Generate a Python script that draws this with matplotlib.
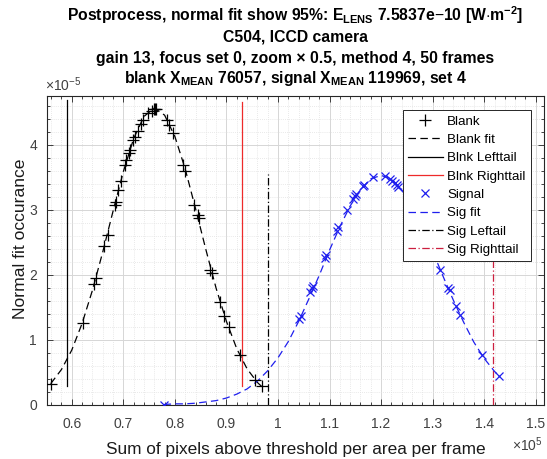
import numpy as np
import matplotlib
matplotlib.use('Agg')
import matplotlib.pyplot as plt
from matplotlib.ticker import AutoMinorLocator

# x values in units of 1e5, y values in units of 1e-5
blank_x = [0.559, 0.621, 0.643, 0.647, 0.662, 0.670, 0.684, 0.686, 0.690, 0.695,
           0.703, 0.706, 0.710, 0.712, 0.719, 0.722, 0.728, 0.734, 0.738, 0.748,
           0.755, 0.759, 0.761, 0.763, 0.784, 0.789, 0.797, 0.816, 0.820, 0.837,
           0.845, 0.847, 0.868, 0.871, 0.887, 0.896, 0.904, 0.926, 0.955, 0.968]
blank_y = [0.31, 1.26, 1.85, 1.95, 2.45, 2.62, 3.08, 3.12, 3.30, 3.45,
           3.69, 3.77, 3.87, 3.92, 4.08, 4.13, 4.21, 4.33, 4.39, 4.49,
           4.52, 4.55, 4.56, 4.56, 4.38, 4.31, 4.19, 3.69, 3.60, 3.08,
           2.92, 2.87, 2.08, 2.03, 1.58, 1.36, 1.19, 0.76, 0.37, 0.28]

blank_fit_x = [0.559, 0.58, 0.60, 0.62, 0.64, 0.66, 0.68, 0.70, 0.72, 0.74, 0.76,
               0.78, 0.80, 0.82, 0.84, 0.86, 0.88, 0.90, 0.92, 0.94, 0.96, 0.968]
blank_fit_y = [0.32, 0.54, 0.84, 1.25, 1.76, 2.35, 2.98, 3.59, 4.10, 4.44, 4.57,
               4.46, 4.13, 3.63, 3.02, 2.39, 1.79, 1.28, 0.86, 0.55, 0.34, 0.28]

sig_x = [0.778, 1.041, 1.045, 1.062, 1.065, 1.068, 1.091, 1.094, 1.114, 1.117,
         1.134, 1.146, 1.149, 1.151, 1.164, 1.167, 1.185, 1.208, 1.217, 1.222,
         1.227, 1.230, 1.233, 1.314, 1.330, 1.333, 1.345, 1.353, 1.395, 1.429]
sig_y = [0.00, 1.32, 1.37, 1.74, 1.79, 1.82, 2.26, 2.31, 2.67, 2.74,
         3.00, 3.16, 3.22, 3.25, 3.37, 3.39, 3.50, 3.52, 3.47, 3.45,
         3.42, 3.38, 3.35, 2.08, 1.79, 1.76, 1.52, 1.38, 0.77, 0.44]

sig_fit_x = [0.778, 0.80, 0.82, 0.84, 0.86, 0.88, 0.90, 0.92, 0.94, 0.96, 0.98,
             1.00, 1.02, 1.04, 1.06, 1.08, 1.10, 1.12, 1.14, 1.16, 1.18, 1.20,
             1.22, 1.24, 1.26, 1.28, 1.30, 1.32, 1.34, 1.36, 1.38, 1.40, 1.42, 1.429]
sig_fit_y = [0.00, 0.01, 0.01, 0.02, 0.04, 0.06, 0.10, 0.16, 0.24, 0.36, 0.52,
             0.72, 0.97, 1.28, 1.63, 1.99, 2.38, 2.74, 3.06, 3.31, 3.48, 3.53,
             3.48, 3.31, 3.05, 2.73, 2.36, 1.98, 1.61, 1.27, 0.96, 0.71, 0.51, 0.44]

# tail lines: blank left, blank right, signal left, signal right
tail_x = [0.590, 0.930, 0.980, 1.4165]
tail_lo = [0.28, 0.28, 0.0, 0.0]
tail_hi = [4.69, 4.67, 3.56, 3.56]

xtick_vals = [0.6, 0.7, 0.8, 0.9, 1.0, 1.1, 1.2, 1.3, 1.4, 1.5]
xtick_labels = ['0.6', '0.7', '0.8', '0.9', '1', '1.1', '1.2', '1.3', '1.4', '1.5']
ytick_vals = [0, 1, 2, 3, 4]
ytick_labels = ['0', '1', '2', '3', '4']

legend_labels = ['Blank', 'Blank fit', 'Blnk Lefttail', 'Blnk Righttail',
                 'Signal', 'Sig fit', 'Sig Leftail', 'Sig Righttail']

title_lines = [
    r'Postprocess, normal fit show 95%: $\mathbf{E}_{\mathbf{LENS}}$ 7.5837e$-$10 [W$\cdot$m$^{\mathbf{-2}}$]',
    'C504, ICCD camera',
    'gain 13, focus set 0, zoom \u00d7 0.5, method 4, 50 frames',
    r'blank $\mathbf{X}_{\mathbf{MEAN}}$ 76057, signal $\mathbf{X}_{\mathbf{MEAN}}$ 119969, set 4',
]

XS = 1e5
YS = 1e-5

plt.rcParams['font.family'] = ['Liberation Sans', 'DejaVu Sans']
plt.rcParams['mathtext.fontset'] = 'custom'
plt.rcParams['mathtext.rm'] = 'Liberation Sans'
plt.rcParams['mathtext.it'] = 'Liberation Sans:italic'
plt.rcParams['mathtext.bf'] = 'Liberation Sans:bold'

BLUE = '#1f1fee'
RED = '#ee2a2a'
DRED = '#cc1f3f'
TXT = '#404040'

fig = plt.figure(figsize=(5.47, 4.59), dpi=100)
W, H = 547.0, 459.0
ax_l, ax_r, ax_t, ax_b = 46.7, 544.0, 96.0, 404.5
ax = fig.add_axes([ax_l / W, 1 - ax_b / H, (ax_r - ax_l) / W, (ax_b - ax_t) / H])

bx = np.array(blank_x) * XS
by = np.array(blank_y) * YS
sx = np.array(sig_x) * XS
sy = np.array(sig_y) * YS

h = []
h += ax.plot(bx, by, '+', color='k', markersize=8, markeredgewidth=0.9, zorder=5)
h += ax.plot(np.array(blank_fit_x) * XS, np.array(blank_fit_y) * YS, color='k',
             lw=0.9, dashes=(6, 3.5), zorder=4)
h += ax.plot([tail_x[0] * XS] * 2, [tail_lo[0] * YS, tail_hi[0] * YS], color='k', lw=0.9)
h += ax.plot([tail_x[1] * XS] * 2, [tail_lo[1] * YS, tail_hi[1] * YS], color=RED, lw=0.9)
h += ax.plot(sx, sy, 'x', color=BLUE, markersize=6, markeredgewidth=0.9, zorder=5)
h += ax.plot(np.array(sig_fit_x) * XS, np.array(sig_fit_y) * YS, color=BLUE,
             lw=0.9, dashes=(6, 3.5), zorder=4)
h += ax.plot([tail_x[2] * XS] * 2, [tail_lo[2] * YS, tail_hi[2] * YS], color='k',
             lw=0.9, dashes=(6, 2, 1, 2))
h += ax.plot([tail_x[3] * XS] * 2, [tail_lo[3] * YS, tail_hi[3] * YS], color=DRED,
             lw=0.9, dashes=(6, 2, 1, 2))

ax.set_xlim(0.5513 * XS, 1.516 * XS)
ax.set_ylim(0, 4.755 * YS)
ax.set_xticks(np.array(xtick_vals) * XS, labels=xtick_labels)
ax.set_yticks(np.array(ytick_vals) * YS, labels=ytick_labels)
ax.xaxis.set_minor_locator(AutoMinorLocator(5))
ax.yaxis.set_minor_locator(AutoMinorLocator(5))

ax.grid(which='major', color='#d6d6d6', lw=0.7)
ax.grid(which='minor', color='#e2e2e2', lw=0.6, ls=(0, (1, 1.5)))
ax.set_axisbelow(True)
for s in ax.spines.values():
    s.set_color('#262626')
    s.set_linewidth(0.8)
ax.tick_params(which='both', direction='in', top=True, right=True,
               color='#262626', width=0.6, labelcolor=TXT, labelsize=10)
ax.tick_params(which='major', length=4)
ax.tick_params(which='minor', length=2)
ax.tick_params(axis='x', pad=9)
ax.tick_params(axis='y', pad=7)

ax.set_xlabel('Sum of pixels above threshold per area per frame', fontsize=12.4,
              color='#1a1a1a')
ax.xaxis.label.set_verticalalignment('baseline')
ax.xaxis.set_label_coords(0.5, (ax_b - 454) / (ax_b - ax_t))
ax.set_ylabel('Normal fit occurance', fontsize=12.6, color='#1a1a1a')
ax.yaxis.label.set_verticalalignment('baseline')
ax.yaxis.set_label_coords((25 - ax_l) / (ax_r - ax_l), (ax_b - 238.5) / (ax_b - ax_t))

# exponent labels like MATLAB
ax.text((45 - ax_l) / (ax_r - ax_l), (ax_b - 90.7) / (ax_b - ax_t), r'$\times10^{-5}$',
        transform=ax.transAxes, ha='left', va='baseline', fontsize=10, color=TXT)
ax.text((543 - ax_l) / (ax_r - ax_l), (ax_b - 450.7) / (ax_b - ax_t), r'$\times10^{5}$',
        transform=ax.transAxes, ha='right', va='baseline', fontsize=10, color=TXT)

title_base = [20.7, 41.6, 62.5, 83.3]
for line, yb in zip(title_lines, title_base):
    fig.text((ax_l + ax_r) / 2 / W, 1 - yb / H, line, ha='center', va='baseline',
             fontsize=11.3, fontweight='bold', color='k')

leg = ax.legend(h, legend_labels, loc='upper right',
                bbox_to_anchor=((531 - ax_l) / (ax_r - ax_l), (ax_b - 110) / (ax_b - ax_t)),
                fontsize=9.6, frameon=True, fancybox=False, framealpha=1,
                edgecolor='#262626', borderpad=0.4, labelspacing=0.45,
                handlelength=2.6, handletextpad=0.35, borderaxespad=0)
leg.get_frame().set_linewidth(0.7)

fig.savefig('out.png', dpi=100, facecolor='white')
